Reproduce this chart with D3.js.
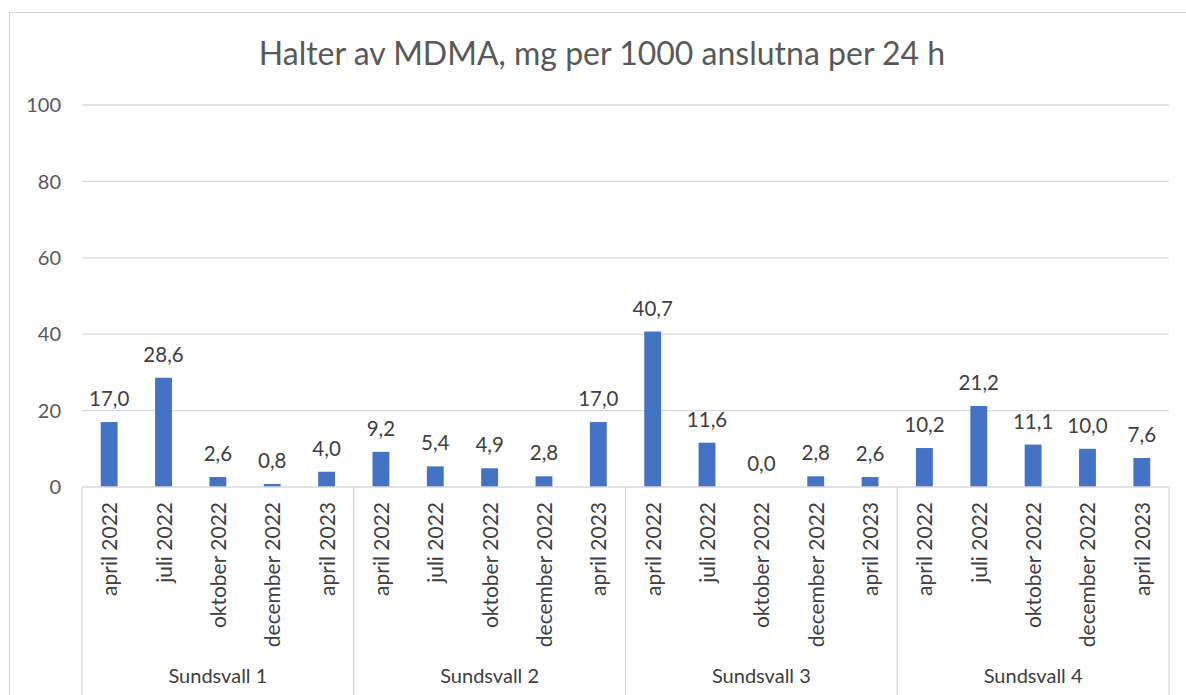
<!DOCTYPE html>
<html><head><meta charset="utf-8">
<script src="https://cdn.jsdelivr.net/npm/d3@7"></script>
<style>body{margin:0;background:#fff}svg{display:block}text{font-family:Lato,"Open Sans",sans-serif}</style>
</head><body>
<svg id="c" width="1186" height="695"></svg>
<script>
const groups = ["Sundsvall 1","Sundsvall 2","Sundsvall 3","Sundsvall 4"];
const periods = ["april 2022","juli 2022","oktober 2022","december 2022","april 2023"];
const values = [
  [17.0, 28.6, 2.6, 0.8, 4.0],
  [9.2, 5.4, 4.9, 2.8, 17.0],
  [40.7, 11.6, 0.0, 2.8, 2.6],
  [10.2, 21.2, 11.1, 10.0, 7.6]
];
const yTicks = [0,20,40,60,80,100];
const title = "Halter av MDMA, mg per 1000 anslutna per 24 h";

const svg = d3.select("#c");
const L = 82, R = 1169, T = 105, B = 487;
const grey = "#595959", grid = "#d9d9d9";

svg.append("rect").attr("x",9.5).attr("y",12.5).attr("width",1190).attr("height",700)
  .attr("fill","none").attr("stroke","#d9d9d9");

const rows = [];
groups.forEach((g,gi)=>periods.forEach((p,pi)=>rows.push({key:gi+"|"+pi,g,p,v:values[gi][pi]})));

const x = d3.scaleBand().domain(rows.map(d=>d.key)).range([L,R]).paddingInner(0.69).paddingOuter(0.345);
const xg = d3.scaleBand().domain(groups).range([L,R]);
const y = d3.scaleLinear().domain([0,100]).range([B,T]);

svg.append("g").selectAll("line").data(yTicks.filter(t=>t>0)).join("line")
  .attr("x1",L).attr("x2",R).attr("y1",d=>y(d)).attr("y2",d=>y(d))
  .attr("stroke",grid).attr("stroke-width",1.3);

svg.append("g").selectAll("text").data(yTicks).join("text")
  .attr("x",61).attr("y",d=>y(d)).attr("dy","0.36em").attr("text-anchor","end")
  .attr("fill",grey).attr("font-size",20).text(d=>d);

svg.append("g").selectAll("rect").data(rows).join("rect")
  .attr("x",d=>x(d.key)).attr("width",x.bandwidth())
  .attr("y",d=>y(d.v)).attr("height",d=>B-y(d.v)).attr("fill","#4472C4");

const fmt = v => v.toFixed(1).replace(".",",");
svg.append("g").selectAll("text").data(rows).join("text")
  .attr("x",d=>x(d.key)+x.bandwidth()/2).attr("y",d=>y(d.v)-16)
  .attr("text-anchor","middle").attr("fill","#404040").attr("font-size",20.5).text(d=>fmt(d.v));

// axis line and group separators
svg.append("line").attr("x1",L).attr("x2",R).attr("y1",B).attr("y2",B).attr("stroke",grid).attr("stroke-width",1.3);
const seps = groups.map(g=>xg(g)).concat([R]);
svg.append("g").selectAll("line").data(seps).join("line")
  .attr("x1",d=>d).attr("x2",d=>d).attr("y1",B).attr("y2",695)
  .attr("stroke",grid).attr("stroke-width",1.3);

svg.append("g").selectAll("text").data(rows).join("text")
  .attr("transform",d=>`translate(${x(d.key)+x.bandwidth()/2+8},502) rotate(-90)`)
  .attr("text-anchor","end").attr("fill","#404040").attr("font-size",21).text(d=>d.p);

svg.append("g").selectAll("text").data(groups).join("text")
  .attr("x",d=>xg(d)+xg.bandwidth()/2).attr("y",683)
  .attr("text-anchor","middle").attr("fill","#404040").attr("font-size",20).text(d=>d);

svg.append("text").attr("x",602).attr("y",65).attr("text-anchor","middle")
  .attr("fill",grey).attr("font-size",32).text(title);
</script>
</body></html>
